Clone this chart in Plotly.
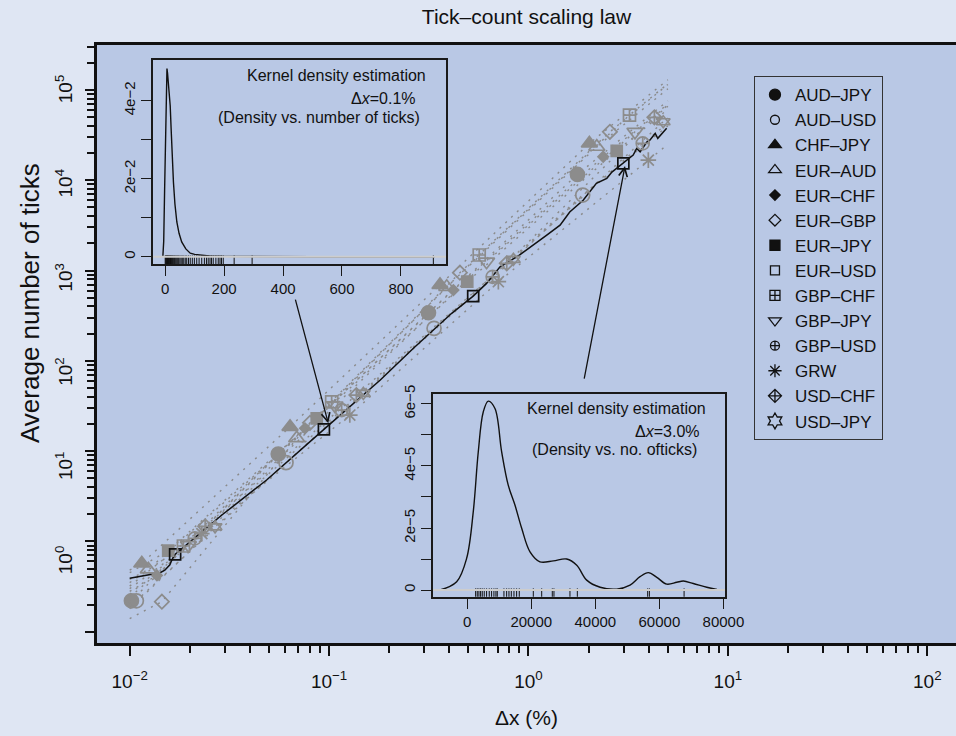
import plotly.graph_objects as go

# ---------------- data ----------------
SERIES = ["AUD–JPY", "AUD–USD", "CHF–JPY", "EUR–AUD", "EUR–CHF", "EUR–GBP", "EUR–JPY",
          "EUR–USD", "GBP–CHF", "GBP–JPY", "GBP–USD", "GRW", "USD–CHF", "USD–JPY"]

# marker points: threshold dx (%) and average number of ticks
DX_AUD_JPY = [0.0102, 0.0556, 0.315, 1.76]
N_AUD_JPY = [0.22, 9.3, 341, 11600]
DX_AUD_USD = [0.0108, 0.0608, 0.336, 1.87]
N_AUD_USD = [0.22, 7.45, 229, 6860]
DX_CHF_JPY = [0.0115, 0.0637, 0.36, 2.02]
N_CHF_JPY = [0.57, 18.6, 692, 25600]
DX_EUR_AUD = [0.0124, 0.0688, 0.389, 2.20]
N_EUR_AUD = [0.49, 13.9, 661, 23500]
DX_EUR_CHF = [0.0137, 0.0757, 0.42, 2.37]
N_EUR_CHF = [0.42, 17.9, 608, 18200]
DX_EUR_GBP = [0.0145, 0.0802, 0.453, 2.56]
N_EUR_GBP = [0.215, 20.6, 946, 34400]
DX_EUR_JPY = [0.0156, 0.0867, 0.493, 2.77]
N_EUR_JPY = [0.79, 23.1, 752, 21200]
DX_EUR_USD = [0.0169, 0.0942, 0.528, 2.99]
N_EUR_USD = [0.72, 17.4, 521, 15400]
DX_GBP_CHF = [0.0186, 0.103, 0.566, 3.21]
N_GBP_CHF = [0.89, 35.2, 1486, 52700]
DX_GBP_JPY = [0.0197, 0.107, 0.616, 3.42]
N_GBP_JPY = [0.91, 32.0, 1253, 34400]
DX_GBP_USD = [0.0212, 0.1156, 0.661, 3.74]
N_GBP_USD = [1.08, 28.5, 851, 25600]
DX_GRW = [0.023, 0.127, 0.706, 3.99]
N_GRW = [1.22, 25.1, 752, 16700]
DX_USD_CHF = [0.0239, 0.137, 0.778, 4.28]
N_USD_CHF = [1.47, 41.8, 1202, 49800]
DX_USD_JPY = [0.0268, 0.1485, 0.84, 4.74]
N_USD_JPY = [1.45, 43.6, 1330, 44500]

# ends of the dotted scaling curves (per series, EUR-USD drawn as the solid line)
CURVE_X0 = 0.01
CURVE_X1 = 5.0
CURVE_START_N = [0.21, 0.19, 0.48, 0.38, 0.28, 0.14, 0.45, None, 0.35, 0.30, 0.26, 0.24, 0.32, 0.18]
CURVE_END_N = [76000, 40000, 130000, 103000, 70000, 115000, 61000, None, 117000, 68000, 43000, 25000, 66000, 49000]

# EUR-USD full scaling curve (solid black)
EURUSD_LINE_DX = [0.0100, 0.0142, 0.0150, 0.0159, 0.01625, 0.0169, 0.0290, 0.0486, 0.0942, 0.18,
                  0.264, 0.412, 0.528, 0.616, 0.72, 0.90, 1.23, 1.44, 1.61, 1.88, 2.19, 2.47,
                  2.62, 2.88, 2.99, 3.35, 3.49, 3.63, 3.93, 4.06, 4.32, 4.45, 4.93]
EURUSD_LINE_N = [0.39, 0.45, 0.48, 0.55, 0.62, 0.72, 1.96, 4.79, 17.4, 61,
                 137, 336, 521, 721, 1100, 1480, 2450, 3180, 4450, 6000, 9250, 10500,
                 12300, 14500, 15400, 19000, 22500, 20700, 26700, 27800, 33000, 29100, 37600]

# inset 1: kernel density, dx = 0.1 %
KDE1_X = [-8, -5, -2, 1, 4, 6, 8, 11, 14, 17, 20, 24, 28, 33, 39.5, 47, 56, 70, 85, 100,
          118, 150, 200, 300, 500, 915]
KDE1_Y = [0.0, 0.004, 0.017, 0.031, 0.044, 0.0482, 0.047, 0.0445, 0.0415, 0.0387, 0.033,
          0.025, 0.0191, 0.0135, 0.0089, 0.0060, 0.0038, 0.0020, 0.0009, 0.0006,
          0.0004, 0.0002, 0.0001, 0.00003, 0.00001, 0.0]
RUG1 = [0, 2, 3, 5, 6, 8, 9, 11, 13, 14, 16, 18, 20, 22, 24, 26, 29, 31, 34, 37, 40, 43, 46,
        50, 54, 58, 63, 68, 73, 79, 85, 92, 99, 107, 115, 124, 133, 140, 146, 152, 157, 163,
        172, 180, 186, 191, 197, 234, 295, 910]

# inset 2: kernel density, dx = 3.0 %
KDE2_X = [-8530, -3300, -190, 1875, 3440, 5000, 6560, 8660, 10750, 12800, 14900, 17000, 19600,
          22700, 26900, 31060, 34200, 37300, 41500, 46700, 50840, 53960, 56560, 59200, 62300,
          65430, 67500, 70600, 74800, 78000]
KDE2_Y = [0.0, 0.27e-5, 1.02e-5, 2.52e-5, 4.45e-5, 5.74e-5, 6.09e-5, 5.85e-5, 4.45e-5, 3.38e-5,
          2.74e-5, 1.99e-5, 1.23e-5, 0.91e-5, 0.94e-5, 1.0e-5, 0.80e-5, 0.32e-5, 0.09e-5,
          0.03e-5, 0.16e-5, 0.43e-5, 0.56e-5, 0.41e-5, 0.19e-5, 0.25e-5, 0.29e-5, 0.21e-5,
          0.09e-5, 0.02e-5]
RUG2 = [2620, 3130, 3650, 4170, 4690, 5310, 6040, 6870, 7600, 8330, 8960, 9380, 11460, 12300,
        13030, 13760, 14590, 15420, 16250, 20630, 23250, 26560, 27080, 32080, 34380, 56350,
        56880, 67720]

X_TICKS = [0.01, 0.1, 1, 10, 100]
X_TICKTEXT = ["10<sup>−2</sup>", "10<sup>−1</sup>", "10<sup>0</sup>", "10<sup>1</sup>", "10<sup>2</sup>"]
Y_TICKS = [0.1, 1, 10, 100, 1000, 10000, 100000]
Y_TICKTEXT = ["10<sup>−1</sup>", "10<sup>0</sup>", "10<sup>1</sup>", "10<sup>2</sup>",
              "10<sup>3</sup>", "10<sup>4</sup>", "10<sup>5</sup>"]
INSET1_XTICKS = [0, 200, 400, 600, 800]
INSET2_XTICKS = [0, 20000, 40000, 60000, 80000]

# ---------------- styling ----------------
FONT = "Liberation Sans, Arial, Helvetica, sans-serif"
PAPER = "#dfe6f3"
PLOTBG = "#b9c8e5"
GREY = "#8c8c8c"
DOTGREY = "#8a8a8a"

DXS = [DX_AUD_JPY, DX_AUD_USD, DX_CHF_JPY, DX_EUR_AUD, DX_EUR_CHF, DX_EUR_GBP, DX_EUR_JPY,
       DX_EUR_USD, DX_GBP_CHF, DX_GBP_JPY, DX_GBP_USD, DX_GRW, DX_USD_CHF, DX_USD_JPY]
NS = [N_AUD_JPY, N_AUD_USD, N_CHF_JPY, N_EUR_AUD, N_EUR_CHF, N_EUR_GBP, N_EUR_JPY,
      N_EUR_USD, N_GBP_CHF, N_GBP_JPY, N_GBP_USD, N_GRW, N_USD_CHF, N_USD_JPY]

SYMBOLS = ["circle", "circle-open", "triangle-up", "triangle-up-open", "diamond", "diamond-open",
           "square", "square-open", "square-cross-open", "triangle-down-open", "circle-cross-open",
           "asterisk-open", "diamond-cross-open", "hexagram-open"]
SIZES = [14, 14, 14, 14, 8, 11, 11, 11, 12, 14, 13, 13, 11, 14]
LEG_SIZES = [11, 9, 11, 11, 8, 9, 10, 9, 10, 11, 9, 11, 10, 12]

fig = go.Figure()

# dotted scaling curves
for i, name in enumerate(SERIES):
    if CURVE_START_N[i] is None:
        continue
    fig.add_trace(go.Scatter(
        x=[CURVE_X0] + DXS[i] + [CURVE_X1], y=[CURVE_START_N[i]] + NS[i] + [CURVE_END_N[i]],
        mode="lines", line=dict(color=DOTGREY, width=1.4, dash="2px,6px"),
        hoverinfo="skip", showlegend=False))

# EUR-USD solid curve
fig.add_trace(go.Scatter(x=EURUSD_LINE_DX, y=EURUSD_LINE_N, mode="lines",
                         line=dict(color="#111111", width=1.5), showlegend=False))

# markers
for i, name in enumerate(SERIES):
    col = "#111111" if name == "EUR–USD" else GREY
    if name == "USD–JPY":
        for sym in ["triangle-up-open", "triangle-down-open"]:
            fig.add_trace(go.Scatter(x=DXS[i], y=NS[i], mode="markers", showlegend=False,
                                     marker=dict(symbol=sym, size=12, color=col,
                                                 line=dict(color=col, width=1.6))))
        continue
    fig.add_trace(go.Scatter(x=DXS[i], y=NS[i], mode="markers", showlegend=False, name=name,
                             marker=dict(symbol=SYMBOLS[i], size=SIZES[i], color=col,
                                         line=dict(color=col, width=1.7))))

# legend entries (black symbols)
for i, name in enumerate(SERIES):
    fig.add_trace(go.Scatter(x=[None], y=[None], mode="markers", name=name, showlegend=True,
                             marker=dict(symbol=SYMBOLS[i], size=LEG_SIZES[i], color="#111111",
                                         line=dict(color="#111111", width=1.3))))

# carrier trace so that the tick-label axis is drawn
fig.add_trace(go.Scatter(x=[None], y=[None], yaxis="y4", showlegend=False, hoverinfo="skip"))

# inset 1
fig.add_trace(go.Scatter(x=KDE1_X, y=KDE1_Y, mode="lines", xaxis="x2", yaxis="y2",
                         line=dict(color="#111111", width=1.4), showlegend=False))
RUG1_Y = -0.00093
fig.add_trace(go.Scatter(x=RUG1, y=[RUG1_Y] * len(RUG1), mode="markers", xaxis="x2", yaxis="y2",
                         marker=dict(symbol="line-ns-open", size=7, color="#111111",
                                     line=dict(color="#111111", width=1)),
                         showlegend=False))
# inset 2
fig.add_trace(go.Scatter(x=KDE2_X, y=KDE2_Y, mode="lines", xaxis="x3", yaxis="y3",
                         line=dict(color="#111111", width=1.4, shape="spline"), showlegend=False))
RUG2_Y = -0.105e-5
fig.add_trace(go.Scatter(x=RUG2, y=[RUG2_Y] * len(RUG2), mode="markers", xaxis="x3", yaxis="y3",
                         marker=dict(symbol="line-ns-open", size=7, color="#111111",
                                     line=dict(color="#111111", width=1)),
                         showlegend=False))

MINOR_X = [m * 10.0 ** k for k in range(-2, 2) for m in range(2, 10)]
MINOR_Y = [m * 10.0 ** k for k in range(-1, 5) for m in range(2, 10)] + [2e5, 3e5]

axis_common = dict(showgrid=False, zeroline=False, ticks="outside", tickcolor="#111111",
                   tickwidth=1.5)

inset_axis = dict(showgrid=False, zeroline=False, showline=True, mirror=True, linecolor="#1a1a1a",
                  linewidth=1.6, ticks="outside", ticklen=10, tickwidth=1.3, tickcolor="#1a1a1a",
                  tickfont=dict(size=15, color="#111111"))

fig.update_layout(
    width=956, height=736,
    margin=dict(l=97, r=0, t=45, b=93, autoexpand=False),
    paper_bgcolor=PAPER, plot_bgcolor=PLOTBG,
    font=dict(family=FONT, color="#111111"),
    title=dict(text="Tick–count scaling law", x=0.5, xref="paper", xanchor="center",
               y=1 - 17 / 736, yref="container", yanchor="middle", font=dict(size=21)),
    xaxis=dict(type="log", range=[-2.164, 2.144], tickvals=X_TICKS, ticktext=X_TICKTEXT,
               ticklen=10, showline=True, linewidth=3, linecolor="#111111", mirror=True,
               tickfont=dict(size=19), ticklabelstandoff=9,
               minor=dict(ticks="outside", tickvals=MINOR_X, ticklen=7, tickwidth=1.5,
                          tickcolor="#111111"), **axis_common),
    yaxis=dict(type="log", range=[-1.125, 5.498], tickvals=Y_TICKS, showticklabels=False,
               ticklen=9, showline=True, linewidth=3, linecolor="#111111",
               minor=dict(ticks="outside", tickvals=MINOR_Y, ticklen=7, tickwidth=1.5,
                          tickcolor="#111111"), **axis_common),
    yaxis4=dict(type="log", range=[-0.851, 5.497], overlaying="y", anchor="x", side="left",
                tickvals=Y_TICKS, ticktext=Y_TICKTEXT, tickangle=-90, ticks="",
                showline=False, showgrid=False, zeroline=False, tickfont=dict(size=19),
                ticklabelstandoff=20),
    xaxis2=dict(domain=[0.0655, 0.4063], anchor="y2", range=[-40.5, 953],
                tickvals=INSET1_XTICKS, ticktext=[str(v) for v in INSET1_XTICKS], **inset_axis),
    yaxis2=dict(domain=[0.6338, 0.9749], anchor="x2", range=[-0.00186, 0.0504],
                tickvals=[0, 0.01, 0.02, 0.03, 0.04], ticktext=["0", "", "2e−2", "", "4e−2"],
                tickangle=-90, **inset_axis),
    xaxis3=dict(domain=[0.3915, 0.7311], anchor="y3", range=[-10600, 80500],
                tickvals=INSET2_XTICKS, ticktext=[str(v) for v in INSET2_XTICKS], **inset_axis),
    yaxis3=dict(domain=[0.0774, 0.4159], anchor="x3", range=[-0.215e-5, 6.31e-5],
                tickvals=[0, 1e-5, 2e-5, 3e-5, 4e-5, 5e-5, 6e-5],
                ticktext=["0", "", "2e−5", "", "4e−5", "", "6e−5"], tickangle=-90, **inset_axis),
    legend=dict(x=0.7648, y=0.948, xanchor="left", yanchor="top", bgcolor="rgba(0,0,0,0)",
                bordercolor="#333333", borderwidth=1, font=dict(size=17, color="#111111"),
                itemsizing="trace", entrywidth=110, entrywidthmode="pixels"),
    showlegend=True,
)

# zero lines of the density insets
fig.add_shape(type="line", xref="x2 domain", x0=0, x1=1, yref="y2", y0=0, y1=0,
              line=dict(color="#cdcdcd", width=2), layer="above")
fig.add_shape(type="line", xref="x3 domain", x0=0, x1=1, yref="y3", y0=0, y1=0,
              line=dict(color="#cdcdcd", width=2), layer="above")

ann_font = dict(size=16, color="#111111")
anns = [
    dict(text="Kernel density estimation", xref="x2 domain", yref="y2 domain", x=0.9385, y=0.926),
    dict(text="Δ<i>x</i>=0.1%", xref="x2 domain", yref="y2 domain", x=0.905, y=0.812),
    dict(text="(Density vs. number of ticks)", xref="x2 domain", yref="y2 domain", x=0.917, y=0.7206),
    dict(text="Kernel density estimation", xref="x3 domain", yref="y3 domain", x=0.9427, y=0.931),
    dict(text="Δ<i>x</i>=3.0%", xref="x3 domain", yref="y3 domain", x=0.920, y=0.815),
    dict(text="(Density vs. no. ofticks)", xref="x3 domain", yref="y3 domain", x=0.912, y=0.725),
]
for a in anns:
    fig.add_annotation(showarrow=False, xanchor="right", yanchor="middle", font=ann_font, **a)

# axis titles
fig.add_annotation(text="Δx (%)", xref="paper", yref="paper", x=0.5, y=-0.1254, showarrow=False,
                   xanchor="center", yanchor="middle", font=dict(size=21))
fig.add_annotation(text="Average number of ticks", xref="paper", yref="paper", x=-0.078, y=0.5685,
                   showarrow=False, textangle=-90, xanchor="center", yanchor="middle",
                   font=dict(size=26))

# arrows from insets to the highlighted EUR-USD points
fig.add_annotation(text="", x=-1.004, y=1.308, xref="x", yref="y", ax=-1.171, ay=2.695,
                   axref="x", ayref="y", showarrow=True, arrowhead=5, arrowsize=1.3,
                   arrowwidth=1.3, arrowcolor="#111111")
fig.add_annotation(text="", x=0.484, y=4.157, xref="x", yref="y", ax=0.278, ay=1.787,
                   axref="x", ayref="y", showarrow=True, arrowhead=5, arrowsize=1.3,
                   arrowwidth=1.3, arrowcolor="#111111")

fig.write_html("out.html", config={"displayModeBar": False},
               post_script="document.body.style.margin='0';document.body.style.padding='0';")
